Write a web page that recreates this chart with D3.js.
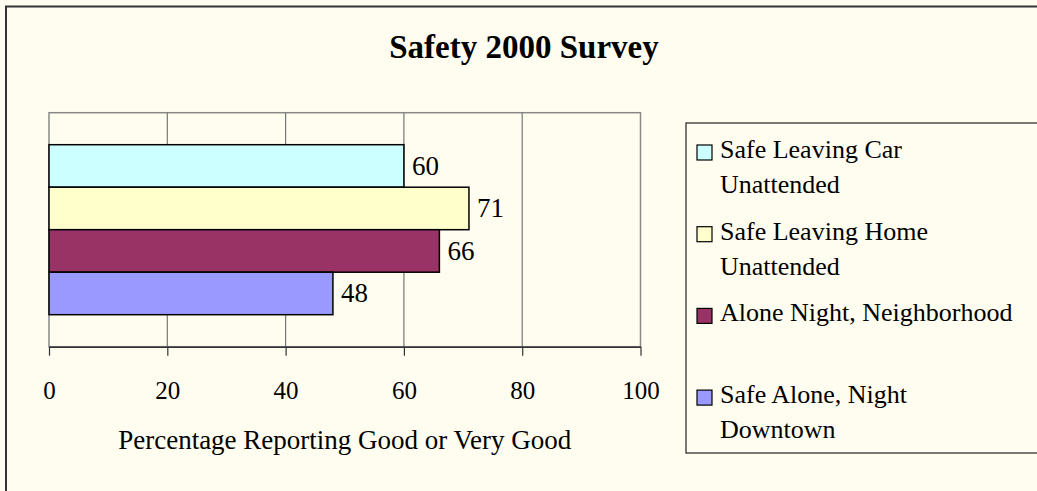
<!DOCTYPE html>
<html>
<head>
<meta charset="utf-8">
<script src="https://cdn.jsdelivr.net/npm/d3@7"></script>
<style>
  body { margin: 0; background: #FFFDF0; }
  svg text { font-family: "Liberation Serif", "Times New Roman", serif; fill: #000; }
</style>
</head>
<body>
<svg id="chart" width="1037" height="491"></svg>
<script>
// Chart data
const seriesNames = ['Safe Leaving Car Unattended', 'Safe Leaving Home Unattended', 'Alone Night, Neighborhood', 'Safe Alone, Night Downtown'];
const seriesValues = [60, 71, 66, 48];
const seriesColors = ['#CCFFFF', '#FFFFCC', '#993366', '#9999FF'];
// Legend text, wrapped the way the original legend wraps it
const legendLines = [['Safe Leaving Car', 'Unattended'], ['Safe Leaving Home', 'Unattended'], ['Alone Night, Neighborhood'], ['Safe Alone, Night', 'Downtown']];
const xTicks = [0, 20, 40, 60, 80, 100];

const svg = d3.select('#chart');

// Outer chart frame (runs off the right and bottom edge)
svg.append('rect')
  .attr('x', 6).attr('y', 6.5)
  .attr('width', 1100).attr('height', 600)
  .attr('fill', '#FFFDF0')
  .attr('stroke', '#333').attr('stroke-width', 2);

// Title
svg.append('text')
  .attr('x', 524).attr('y', 58)
  .attr('text-anchor', 'middle')
  .style('font-size', '33px')
  .style('font-weight', 'bold')
  .text('Safety 2000 Survey');

// Plot area
const plot = { left: 49, right: 640.5, top: 112.7, bottom: 346.7 };

const xScale = d3.scaleLinear()
  .domain([0, 100])
  .range([plot.left, plot.right]);

const yScale = d3.scaleBand()
  .domain(seriesNames)
  .range([plot.top, plot.bottom])
  .paddingInner(0)
  .paddingOuter(0.753);

// Plot border (grey)
svg.append('rect')
  .attr('x', plot.left).attr('y', plot.top)
  .attr('width', plot.right - plot.left).attr('height', plot.bottom - plot.top)
  .attr('fill', 'none')
  .attr('stroke', '#888').attr('stroke-width', 1.5);

// Vertical gridlines
svg.append('g')
  .selectAll('line')
  .data(xTicks.slice(1, -1))
  .join('line')
  .attr('x1', (d) => xScale(d)).attr('x2', (d) => xScale(d))
  .attr('y1', plot.top).attr('y2', plot.bottom)
  .attr('stroke', '#777').attr('stroke-width', 1.2);

// Bars
svg.append('g')
  .selectAll('rect')
  .data(seriesNames)
  .join('rect')
  .attr('x', xScale(0))
  .attr('y', (d) => yScale(d))
  .attr('width', (d, i) => xScale(seriesValues[i]) - xScale(0))
  .attr('height', yScale.bandwidth())
  .attr('fill', (d, i) => seriesColors[i])
  .attr('stroke', '#000').attr('stroke-width', 1.5);

// Data labels
svg.append('g')
  .selectAll('text')
  .data(seriesNames)
  .join('text')
  .attr('x', (d, i) => xScale(seriesValues[i]) + 8)
  .attr('y', (d) => yScale(d) + yScale.bandwidth() / 2 + 9)
  .style('font-size', '27px')
  .text((d, i) => seriesValues[i]);

// X axis
const xAxis = svg.append('g')
  .attr('transform', `translate(0,${plot.bottom})`)
  .call(d3.axisBottom(xScale).tickValues(xTicks).tickSize(9).tickSizeOuter(0).tickPadding(26));

xAxis.select('.domain').attr('stroke', '#333').attr('stroke-width', 1.5);
xAxis.selectAll('.tick line').attr('stroke', '#333').attr('stroke-width', 1.2);
xAxis.selectAll('.tick text')
  .style('font-size', '25px')
  .style('font-family', '"Liberation Serif", serif')
  .attr('fill', '#000');

// X axis title
svg.append('text')
  .attr('x', (plot.left + plot.right) / 2).attr('y', 449)
  .attr('text-anchor', 'middle')
  .style('font-size', '27px')
  .text('Percentage Reporting Good or Very Good');

// Legend
const legend = svg.append('g');
legend.append('rect')
  .attr('x', 686).attr('y', 123)
  .attr('width', 400).attr('height', 330)
  .attr('fill', '#FFFDF0')
  .attr('stroke', '#222').attr('stroke-width', 1.2);

const legendItems = legend.selectAll('g.item')
  .data(seriesNames)
  .join('g')
  .attr('class', 'item')
  .attr('transform', (d, i) => `translate(697,${158 + i * 81.7})`);

legendItems.append('rect')
  .attr('x', 0).attr('y', -13)
  .attr('width', 15).attr('height', 15)
  .attr('fill', (d, i) => seriesColors[i])
  .attr('stroke', '#000').attr('stroke-width', 1.2);

legendItems.each(function (d, i) {
  d3.select(this).selectAll('text')
    .data(legendLines[i])
    .join('text')
    .attr('x', 23)
    .attr('y', (line, j) => j * 35)
    .style('font-size', '26px')
    .text((line) => line);
});
</script>
</body>
</html>
